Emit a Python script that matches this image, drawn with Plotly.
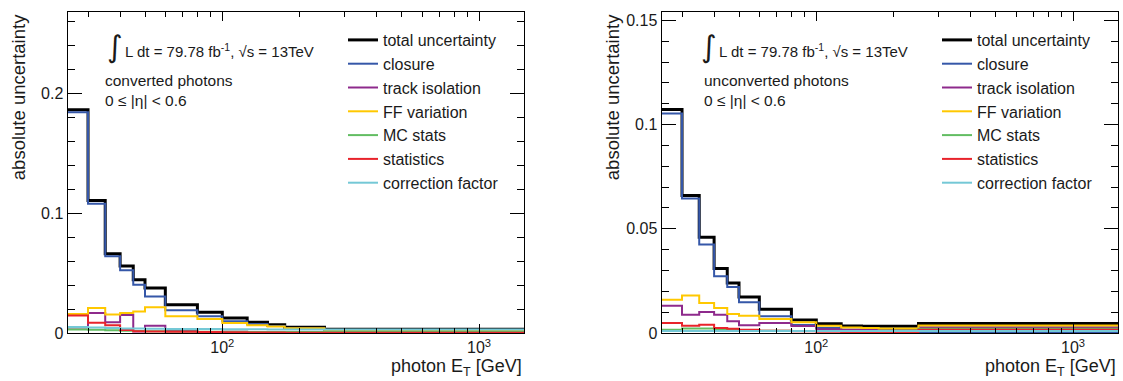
import plotly.graph_objects as go

# ---------------- data ----------------
bin_edges = [25, 30, 35, 40, 45, 50, 60, 80, 100, 125, 150, 175, 250, 1500]

series_names = ["total uncertainty", "closure", "track isolation", "FF variation",
                "MC stats", "statistics", "correction factor"]
series_colors = ["#000000", "#3557a8", "#8e2a8c", "#ffc800", "#62bd62", "#e8232b", "#74c8d6"]

conv_total   = [0.186, 0.1105, 0.066, 0.0558, 0.0444, 0.0375, 0.0236, 0.0172, 0.0125, 0.0089, 0.0069, 0.0048, 0.0031]
conv_closure = [0.184, 0.1078, 0.0639, 0.0522, 0.0403, 0.0305, 0.0189, 0.0139, 0.0097, 0.0076, 0.0058, 0.0040, 0.0020]
conv_trkiso  = [0.0045, 0.0167, 0.0089, 0.0150, 0.0012, 0.0061, 0.0018, 0.0004, 0.0010, 0.0002, 0.0006, 0.0008, 0.0010]
conv_ff      = [0.0158, 0.0208, 0.0155, 0.0167, 0.0180, 0.0214, 0.0139, 0.0117, 0.0083, 0.0064, 0.0055, 0.0040, 0.0022]
conv_mcstat  = [0.0030, 0.0027, 0.0022, 0.0018, 0.0016, 0.0014, 0.0012, 0.0011, 0.0010, 0.0009, 0.0008, 0.0008, 0.0012]
conv_stat    = [0.0145, 0.0085, 0.0065, 0.0025, 0.0015, 0.0012, 0.0010, 0.0008, 0.0006, 0.0005, 0.0004, 0.0003, 0.0002]
conv_corr    = [0.0050, 0.0045, 0.0041, 0.0038, 0.0037, 0.0035, 0.0034, 0.0033, 0.0032, 0.0031, 0.0030, 0.0030, 0.0029]

unc_total    = [0.1072, 0.0660, 0.0459, 0.0309, 0.0240, 0.0173, 0.0114, 0.0062, 0.0044, 0.0033, 0.0032, 0.0032, 0.0045]
unc_closure  = [0.1053, 0.0645, 0.0424, 0.0272, 0.0221, 0.0147, 0.0080, 0.0038, 0.0024, 0.0015, 0.0011, 0.0010, 0.0003]
unc_trkiso   = [0.0131, 0.0088, 0.0101, 0.0088, 0.0056, 0.0037, 0.0048, 0.0033, 0.0018, 0.0015, 0.0017, 0.0018, 0.0028]
unc_ff       = [0.0160, 0.0180, 0.0144, 0.0120, 0.0091, 0.0083, 0.0067, 0.0051, 0.0035, 0.0026, 0.0024, 0.0022, 0.0036]
unc_mcstat   = [0.0016, 0.0022, 0.0021, 0.0018, 0.0016, 0.0013, 0.0011, 0.0010, 0.0009, 0.0009, 0.0010, 0.0011, 0.0020]
unc_stat     = [0.0048, 0.0035, 0.0040, 0.0024, 0.0020, 0.0015, 0.0011, 0.0008, 0.0006, 0.0003, 0.0003, 0.0003, 0.0015]
unc_corr     = [0.0010, 0.0010, 0.0009, 0.0009, 0.0009, 0.0009, 0.0009, 0.0009, 0.0009, 0.0009, 0.0009, 0.0009, 0.0010]

x_major_vals = [100, 1000]
x_major_text = ["10<sup>2</sup>", "10<sup>3</sup>"]
x_minor_vals = [30, 40, 50, 60, 70, 80, 90, 200, 300, 400, 500, 600, 700, 800, 900]

conv_series = [conv_total, conv_closure, conv_trkiso, conv_ff, conv_mcstat, conv_stat, conv_corr]
unc_series = [unc_total, unc_closure, unc_trkiso, unc_ff, unc_mcstat, unc_stat, unc_corr]

# ---------------- layout helpers ----------------
W, H = 1123, 381
MT, MB = 12, 48
PH = H - MT - MB


def px(x):
    return x / W


def py(y):
    return (H - MB - y) / PH


FONT = "Liberation Sans, Arial, Helvetica, sans-serif"
TXT = "#1a1a1a"

fig = go.Figure()

for panel, (series, xa, ya, lg) in enumerate([(conv_series, "x", "y", "legend"),
                                               (unc_series, "x2", "y2", "legend2")]):
    for name, col, vals in zip(series_names, series_colors, series):
        fig.add_trace(go.Scatter(
            x=bin_edges, y=list(vals) + [vals[-1]],
            mode="lines", line=dict(shape="hv", color=col, width=3 if name == "total uncertainty" else 2),
            name=name, xaxis=xa, yaxis=ya, legend=lg, showlegend=True,
        ))

xcommon = dict(type="log", range=[1.39794, 3.17609], showgrid=False, zeroline=False,
               showline=True, linecolor="black", linewidth=1.3, mirror="allticks",
               ticks="inside", ticklen=9, tickwidth=1, tickcolor="black",
               tickmode="array", tickvals=x_major_vals, ticktext=x_major_text,
               tickfont=dict(family=FONT, size=16, color=TXT),
               minor=dict(tickmode="array", tickvals=x_minor_vals, ticks="inside", ticklen=5,
                          tickcolor="black", tickwidth=1))
ycommon = dict(showgrid=False, zeroline=False, showline=True, linecolor="black", linewidth=1.3,
               mirror="allticks", ticks="inside", ticklen=14, tickwidth=1, tickcolor="black",
               tickfont=dict(family=FONT, size=16, color=TXT))

L1, R1 = 67.7, 524.3
L2, R2 = 661.7, 1118.3

fig.update_layout(
    width=W, height=H, margin=dict(l=0, r=0, t=MT, b=MB),
    paper_bgcolor="white", plot_bgcolor="white",
    xaxis=dict(domain=[px(L1), px(R1)], anchor="y", **xcommon),
    xaxis2=dict(domain=[px(L2), px(R2)], anchor="y2", **xcommon),
    yaxis=dict(domain=[0, 1], anchor="x", range=[0, 0.2675], tickmode="linear", tick0=0, dtick=0.1,
               minor=dict(dtick=0.02, ticks="inside", ticklen=7, tickcolor="black", tickwidth=1), **ycommon),
    yaxis2=dict(domain=[0, 1], anchor="x2", range=[0, 0.154], tickmode="linear", tick0=0, dtick=0.05,
                minor=dict(dtick=0.01, ticks="inside", ticklen=7, tickcolor="black", tickwidth=1), **ycommon),
    legend=dict(x=px(343), y=py(23), xanchor="left", yanchor="top", bgcolor="rgba(0,0,0,0)",
                font=dict(family=FONT, size=16, color=TXT), itemwidth=30),
    legend2=dict(x=px(937), y=py(23), xanchor="left", yanchor="top", bgcolor="rgba(0,0,0,0)",
                 font=dict(family=FONT, size=16, color=TXT), itemwidth=30),
)

ann = []
for L, R, label, lab_x in [(L1, R1, "converted photons", 103.3), (L2, R2, "unconverted photons", 702.3)]:
    ann.append(dict(x=px(L + 47), y=py(46), xref="paper", yref="paper", text="∫", showarrow=False,
                    xanchor="center", yanchor="middle",
                    font=dict(family="DejaVu Sans", size=30, color=TXT)))
    ann.append(dict(x=px(L + 55.3), y=py(50), xref="paper", yref="paper",
                    text="L dt = 79.78 fb<sup>-1</sup>, √s = 13TeV", showarrow=False,
                    xanchor="left", yanchor="middle", font=dict(family=FONT, size=15, color=TXT)))
    ann.append(dict(x=px(lab_x), y=py(80.5), xref="paper", yref="paper", text=label, showarrow=False,
                    xanchor="left", yanchor="middle", font=dict(family=FONT, size=15.5, color=TXT)))
    ann.append(dict(x=px(lab_x), y=py(100.5), xref="paper", yref="paper", text="0 ≤ |η| < 0.6",
                    showarrow=False, xanchor="left", yanchor="middle",
                    font=dict(family=FONT, size=15.5, color=TXT)))
    ann.append(dict(x=px(R), y=py(367), xref="paper", yref="paper",
                    text="photon E<sub>T</sub> [GeV]", showarrow=False,
                    xanchor="right", yanchor="middle", font=dict(family=FONT, size=18, color=TXT)))
    ann.append(dict(x=px(L - 49.5), y=1.0, xref="paper", yref="paper", text="absolute uncertainty",
                    showarrow=False, textangle=-90, xanchor="center", yanchor="top",
                    font=dict(family=FONT, size=18.5, color=TXT)))

fig.update_layout(annotations=ann)
fig.write_html("out.html")
